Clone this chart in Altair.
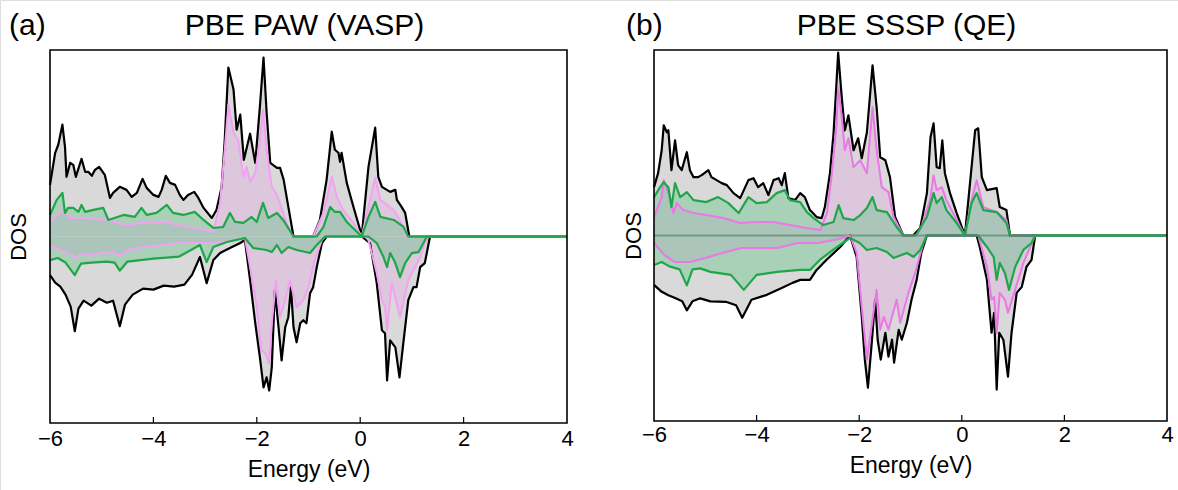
import altair as alt
import pandas as pd

# Figure geometry (pixels) and axis settings
FIG_W, FIG_H = 1178, 490
E_MIN, E_MAX = -6.0, 4.0
YLIM = 18.6
TICK_VALUES = [-6, -4, -2, 0, 2, 4]
INNER_TICKS = [-4, -2, 0, 2]

# ---------------------------------------------------------------------------
# (a) PBE PAW (VASP) -- spin-resolved DOS as (energy eV, DOS) pairs
# ---------------------------------------------------------------------------
vasp_total_up = [
    (-6.0, 5.15), (-5.9, 8.35), (-5.84, 9.15), (-5.76, 11.15), (-5.71, 8.95), (-5.68, 5.95),
    (-5.61, 7.35), (-5.55, 7.15), (-5.5, 5.95), (-5.39, 7.75), (-5.32, 6.45), (-5.26, 6.45),
    (-5.19, 6.05), (-5.13, 6.65), (-5.05, 6.95), (-4.94, 6.15), (-4.84, 3.85), (-4.78, 4.35),
    (-4.65, 4.95), (-4.52, 4.65), (-4.42, 3.95), (-4.32, 4.35), (-4.21, 5.75), (-4.13, 4.85),
    (-4.0, 4.15), (-3.9, 3.95), (-3.84, 4.65), (-3.76, 6.05), (-3.68, 5.35), (-3.58, 5.15),
    (-3.49, 4.15), (-3.42, 3.65), (-3.33, 4.15), (-3.21, 4.45), (-3.13, 3.85), (-3.03, 2.85),
    (-2.87, 1.85), (-2.78, 2.65), (-2.68, 4.95), (-2.62, 9.65), (-2.55, 16.85), (-2.45, 14.65),
    (-2.39, 10.65), (-2.32, 12.15), (-2.25, 7.65), (-2.13, 10.25), (-2.03, 7.35), (-1.94, 12.95),
    (-1.87, 17.85), (-1.81, 12.35), (-1.74, 7.35), (-1.61, 6.85), (-1.55, 6.85), (-1.48, 5.65),
    (-1.39, 2.95), (-1.29, 0.0), (-0.91, 0.0), (-0.78, 1.65), (-0.65, 5.65), (-0.55, 10.45),
    (-0.49, 8.65), (-0.42, 8.35), (-0.39, 7.45), (-0.36, 8.35), (-0.26, 5.35), (-0.13, 2.95),
    (0.03, 0.1), (0.16, 6.95), (0.29, 10.85), (0.35, 5.95), (0.42, 4.95), (0.58, 4.45),
    (0.68, 4.65), (0.71, 3.65), (0.8, 2.95), (0.87, 2.35), (0.95, 0.0), (4.0, 0.0),
]
vasp_total_dn = [
    (-6.0, -3.85), (-5.9, -4.6), (-5.8, -5.0), (-5.7, -5.8), (-5.6, -7.0), (-5.52, -9.45),
    (-5.45, -7.2), (-5.35, -6.4), (-5.2, -6.9), (-5.05, -6.2), (-4.9, -6.6), (-4.78, -6.4),
    (-4.65, -8.95), (-4.55, -6.8), (-4.4, -5.8), (-4.2, -5.2), (-4.0, -5.3), (-3.8, -4.9),
    (-3.6, -5.0), (-3.4, -4.8), (-3.25, -3.8),
    (-3.1, -2.05), (-2.97, -4.65), (-2.84, -2.35), (-2.71, -1.65), (-2.52, -1.15), (-2.32, -0.65),
    (-2.23, -0.35), (-2.13, -4.35), (-2.03, -8.65), (-1.94, -12.05), (-1.87, -15.05), (-1.81, -14.05),
    (-1.76, -15.35), (-1.71, -13.05), (-1.65, -5.35), (-1.58, -9.05), (-1.52, -12.35), (-1.45, -9.05),
    (-1.39, -8.05), (-1.34, -5.05), (-1.29, -9.05), (-1.23, -10.55), (-1.16, -8.65), (-1.1, -8.35),
    (-1.04, -8.65), (-0.97, -5.65), (-0.91, -5.05), (-0.84, -3.05), (-0.74, -0.65), (-0.65, 0.0),
    (0.03, 0.0), (0.19, -0.65), (0.32, -4.65), (0.42, -9.35), (0.48, -9.65), (0.52, -14.35),
    (0.58, -10.35), (0.68, -11.05), (0.76, -14.05), (0.84, -10.35), (0.93, -6.35), (1.03, -5.05),
    (1.09, -5.05), (1.16, -3.05), (1.25, -2.65), (1.35, 0.0), (4.0, 0.0),
]
vasp_pink_up = [
    (-6.0, 1.45), (-5.81, 2.35), (-5.74, 2.65), (-5.61, 1.85), (-5.36, 1.85), (-4.9, 1.65),
    (-4.52, 1.15), (-4.26, 1.35), (-3.74, 1.45), (-3.36, 0.95), (-2.97, 0.65), (-2.84, 0.45),
    (-2.71, 3.35), (-2.62, 8.65), (-2.55, 13.15), (-2.45, 10.35), (-2.36, 9.65), (-2.26, 5.95),
    (-2.2, 6.95), (-2.13, 5.45), (-2.03, 6.35), (-1.94, 9.65), (-1.88, 12.65), (-1.81, 8.65),
    (-1.71, 4.95), (-1.61, 4.15), (-1.49, 2.35), (-1.36, 0.45), (-1.29, 0.0), (-0.91, 0.0),
    (-0.71, 2.35), (-0.55, 5.95), (-0.45, 3.95), (-0.33, 2.65), (-0.13, 1.35), (0.03, 0.0),
    (0.19, 3.65), (0.29, 5.85), (0.39, 3.65), (0.65, 2.65), (0.84, 0.95), (0.9, 0.0), (4.0, 0.0),
]
vasp_pink_dn = [
    (-6.0, -0.85), (-5.8, -1.35), (-5.65, -1.6), (-5.52, -2.1), (-5.4, -1.8), (-5.2, -1.9),
    (-5.0, -1.6), (-4.8, -1.6), (-4.65, -1.9), (-4.5, -1.4), (-4.3, -1.15), (-3.5, -0.65),
    (-2.8, -0.65), (-2.4, -0.35), (-2.23, -0.15),
    (-2.13, -3.05), (-2.0, -7.05), (-1.91, -11.35), (-1.84, -11.65), (-1.76, -12.65), (-1.71, -8.65),
    (-1.63, -4.35), (-1.55, -8.05), (-1.45, -6.35), (-1.36, -4.35), (-1.23, -7.05), (-1.1, -6.35),
    (-1.0, -5.05), (-0.88, -2.35), (-0.74, -0.35), (-0.68, 0.0), (0.1, 0.0), (0.16, -0.35),
    (0.32, -3.65), (0.42, -6.35), (0.48, -7.05), (0.52, -9.35), (0.61, -4.65), (0.77, -8.05),
    (0.93, -4.35), (1.16, -2.05), (1.3, 0.0), (4.0, 0.0),
]
vasp_green_up = [
    (-6.0, 2.15), (-5.87, 3.65), (-5.76, 4.35), (-5.71, 2.35), (-5.65, 2.85), (-5.55, 2.85),
    (-5.45, 2.45), (-5.39, 3.15), (-5.32, 2.45), (-5.16, 2.65), (-4.97, 2.85), (-4.87, 1.65),
    (-4.58, 2.15), (-4.36, 1.95), (-4.23, 2.85), (-4.13, 2.15), (-3.94, 2.35), (-3.74, 3.15),
    (-3.62, 2.35), (-3.42, 2.15), (-3.2, 2.45), (-3.03, 1.65), (-2.84, 0.85), (-2.65, 0.95),
    (-2.52, 2.35), (-2.42, 1.45), (-2.26, 1.35), (-2.1, 1.95), (-2.0, 1.45), (-1.88, 3.35),
    (-1.78, 1.85), (-1.61, 2.35), (-1.49, 1.65), (-1.29, 0.0), (-0.84, 0.0), (-0.71, 0.95),
    (-0.58, 2.95), (-0.49, 2.45), (-0.39, 2.45), (-0.26, 1.45), (0.03, 0.0), (0.16, 1.95),
    (0.29, 3.45), (0.39, 1.95), (0.65, 1.65), (0.84, 0.95), (0.93, 0.0), (4.0, 0.0),
]
vasp_green_dn = [
    (-6.0, -2.35), (-5.85, -2.15), (-5.7, -2.6), (-5.52, -3.85), (-5.4, -2.7), (-5.2, -2.6),
    (-4.9, -2.5), (-4.75, -2.6), (-4.65, -3.4), (-4.5, -2.5), (-4.0, -2.2), (-3.5, -2.0),
    (-3.1, -0.85), (-2.97, -2.55), (-2.84, -1.05), (-2.58, -0.55), (-2.23, -0.15), (-2.07, -1.15),
    (-1.81, -1.35), (-1.71, -1.55), (-1.61, -0.85), (-1.52, -1.65), (-1.39, -1.05), (-1.23, -1.35),
    (-0.97, -1.65), (-0.84, -0.85), (-0.68, 0.0), (0.16, 0.0), (0.32, -0.65), (0.45, -2.05),
    (0.52, -3.05), (0.58, -1.65), (0.68, -2.65), (0.77, -4.05), (0.87, -2.65), (1.0, -1.65),
    (1.13, -1.55), (1.29, 0.0), (4.0, 0.0),
]

# ---------------------------------------------------------------------------
# (b) PBE SSSP (QE) -- spin-resolved DOS as (energy eV, DOS) pairs
# ---------------------------------------------------------------------------
qe_total_up = [
    (-6.0, 4.85), (-5.92, 6.25), (-5.85, 8.55), (-5.81, 11.05), (-5.75, 10.35), (-5.72, 10.55),
    (-5.66, 6.55), (-5.59, 9.55), (-5.53, 7.05), (-5.46, 6.55), (-5.36, 8.35), (-5.3, 6.55),
    (-5.23, 5.85), (-5.14, 5.85), (-5.07, 6.05), (-4.94, 6.55), (-4.88, 5.85), (-4.78, 5.55),
    (-4.68, 5.25), (-4.58, 5.05), (-4.45, 4.25), (-4.32, 3.75), (-4.16, 5.55), (-4.06, 5.75),
    (-3.97, 4.85), (-3.87, 5.25), (-3.77, 4.05), (-3.67, 5.55), (-3.57, 5.75), (-3.51, 5.05),
    (-3.45, 6.25), (-3.38, 3.75), (-3.25, 3.55), (-3.15, 4.25), (-3.06, 3.85), (-2.96, 2.55),
    (-2.83, 1.85), (-2.73, 1.75), (-2.67, 2.85), (-2.57, 6.25), (-2.5, 10.25), (-2.44, 15.55),
    (-2.41, 18.35), (-2.34, 13.85), (-2.28, 10.55), (-2.21, 12.05), (-2.11, 8.55), (-2.02, 9.75),
    (-1.95, 7.75), (-1.85, 10.35), (-1.74, 17.05), (-1.66, 12.85), (-1.59, 7.85), (-1.49, 7.55),
    (-1.4, 5.85), (-1.3, 1.85), (-1.14, 0.0), (-0.95, 0.0), (-0.81, 0.75), (-0.68, 4.25),
    (-0.61, 9.85), (-0.55, 11.25), (-0.49, 6.85), (-0.43, 6.75), (-0.38, 9.55), (-0.33, 6.25),
    (-0.23, 4.25), (-0.1, 2.25), (0.06, 0.0), (0.16, 5.25), (0.26, 10.55), (0.32, 10.75),
    (0.39, 5.85), (0.49, 4.55), (0.68, 4.75), (0.74, 2.85), (0.87, 2.55), (0.94, 0.0), (4.0, 0.0),
]
qe_total_dn = [
    (-6.0, -4.95), (-5.85, -5.65), (-5.72, -6.0), (-5.6, -6.25), (-5.45, -6.6), (-5.36, -7.5),
    (-5.25, -6.6), (-5.1, -6.3), (-4.9, -6.6), (-4.6, -6.65), (-4.4, -7.0), (-4.28, -8.25),
    (-4.1, -6.45), (-3.8, -5.95), (-3.5, -5.25), (-3.3, -4.75), (-3.15, -4.45), (-2.96, -4.45),
    (-2.83, -3.45), (-2.64, -2.45), (-2.37, -1.15), (-2.18, 0.0), (-2.05, -2.15), (-1.95, -8.15),
    (-1.89, -12.45), (-1.83, -15.25), (-1.75, -10.45), (-1.69, -6.45), (-1.64, -10.45), (-1.58, -12.45),
    (-1.49, -9.75), (-1.43, -12.15), (-1.36, -10.45), (-1.32, -12.75), (-1.23, -9.45), (-1.17, -10.45),
    (-1.07, -8.75), (-0.98, -6.45), (-0.88, -4.45), (-0.79, -1.75), (-0.68, 0.0), (0.29, 0.0),
    (0.35, -1.15), (0.49, -4.45), (0.58, -9.75), (0.63, -7.75), (0.68, -15.45), (0.73, -9.75),
    (0.81, -10.45), (0.9, -14.15), (0.97, -9.75), (1.07, -5.75), (1.17, -5.15), (1.26, -3.15),
    (1.36, -2.45), (1.43, 0.0), (4.0, 0.0),
]
qe_pink_up = [
    (-6.0, 1.85), (-5.85, 3.85), (-5.81, 5.55), (-5.69, 3.85), (-5.62, 2.25), (-5.56, 3.25),
    (-5.43, 2.55), (-5.23, 2.25), (-4.98, 2.05), (-4.65, 1.75), (-4.32, 1.25), (-4.0, 1.35),
    (-3.67, 1.35), (-3.35, 1.05), (-3.02, 0.75), (-2.76, 0.55), (-2.63, 2.25), (-2.54, 5.85),
    (-2.44, 11.25), (-2.41, 14.85), (-2.34, 11.85), (-2.28, 8.55), (-2.21, 9.75), (-2.11, 6.85),
    (-1.98, 7.55), (-1.85, 6.25), (-1.74, 12.85), (-1.66, 8.55), (-1.56, 4.85), (-1.43, 4.35),
    (-1.33, 1.85), (-1.14, 0.0), (-0.9, 0.0), (-0.81, 0.55), (-0.62, 3.55), (-0.55, 6.05),
    (-0.49, 4.55), (-0.39, 4.85), (-0.3, 3.55), (-0.1, 1.55), (0.06, 0.0), (0.19, 3.55),
    (0.29, 5.55), (0.42, 2.85), (0.68, 2.35), (0.87, 1.55), (0.94, 0.0), (4.0, 0.0),
]
qe_pink_dn = [
    (-6.0, -0.75), (-5.8, -1.95), (-5.6, -2.65), (-5.3, -2.65), (-5.0, -2.25), (-4.6, -1.65),
    (-4.3, -1.25), (-3.6, -1.25), (-3.2, -0.75), (-2.8, -0.75), (-2.4, -0.35), (-2.18, 0.0),
    (-2.05, -1.75), (-1.95, -7.15), (-1.85, -12.45), (-1.75, -8.75), (-1.66, -5.45), (-1.59, -9.45),
    (-1.52, -8.15), (-1.43, -9.45), (-1.27, -6.45), (-1.2, -8.75), (-1.04, -5.75), (-0.91, -3.75),
    (-0.75, -0.75), (-0.68, 0.0), (0.32, 0.0), (0.49, -3.15), (0.58, -6.45), (0.63, -6.15),
    (0.68, -9.75), (0.74, -5.75), (0.84, -6.45), (0.9, -7.75), (1.04, -5.45), (1.2, -2.75),
    (1.39, -0.45), (1.43, 0.0), (4.0, 0.0),
]
qe_green_up = [
    (-6.0, 3.85), (-5.88, 4.85), (-5.81, 5.35), (-5.72, 4.85), (-5.66, 2.85), (-5.59, 5.25),
    (-5.49, 3.85), (-5.36, 4.35), (-5.23, 3.55), (-4.98, 3.35), (-4.75, 3.85), (-4.55, 3.25),
    (-4.35, 2.25), (-4.16, 3.85), (-4.0, 3.25), (-3.8, 3.35), (-3.61, 4.25), (-3.45, 4.55),
    (-3.35, 3.55), (-3.15, 3.35), (-3.02, 2.35), (-2.89, 1.75), (-2.7, 1.05), (-2.5, 1.35),
    (-2.4, 3.05), (-2.31, 1.75), (-2.11, 1.55), (-1.98, 2.05), (-1.85, 2.75), (-1.74, 3.85),
    (-1.66, 2.55), (-1.46, 2.35), (-1.27, 0.85), (-1.14, 0.0), (-0.9, 0.0), (-0.68, 1.85),
    (-0.55, 4.25), (-0.49, 3.25), (-0.39, 3.85), (-0.3, 2.55), (-0.1, 1.25), (0.06, 0.0),
    (0.19, 3.25), (0.29, 4.25), (0.42, 2.55), (0.68, 2.35), (0.87, 1.25), (0.94, 0.0), (4.0, 0.0),
]
qe_green_dn = [
    (-6.0, -2.95), (-5.85, -2.65), (-5.7, -3.1), (-5.5, -3.4), (-5.36, -5.0), (-5.25, -3.4),
    (-5.1, -3.3), (-4.9, -3.65), (-4.5, -3.95), (-4.25, -5.45), (-4.0, -3.95), (-3.6, -3.65),
    (-3.15, -3.45), (-2.96, -3.45), (-2.77, -2.45), (-2.51, -1.45), (-2.18, -0.25), (-1.99, -0.75),
    (-1.85, -1.45), (-1.66, -1.25), (-1.46, -1.65), (-1.33, -2.25), (-1.07, -1.75), (-0.94, -2.15),
    (-0.81, -1.45), (-0.68, 0.0), (0.32, 0.0), (0.49, -1.15), (0.62, -2.15), (0.68, -4.45),
    (0.74, -2.75), (0.84, -3.75), (0.92, -5.45), (1.04, -3.15), (1.2, -1.45), (1.36, -0.75),
    (1.43, 0.0), (4.0, 0.0),
]

# Colours
GRAY_FILL = "#d9d9d9"
PINK = "#ee82ee"
GREEN_FILL = "#3cbf6a"
GREEN = "#1fa64a"
FONT = "Liberation Sans"


def long_frame(curves):
    """Stack (kind, spin) -> [(E, dos), ...] into one tidy table."""
    rows = []
    for (kind, spin), pairs in curves.items():
        for e, d in pairs:
            rows.append({"E": e, "D": d, "Z": 0.0, "kind": kind, "spin": spin})
    return pd.DataFrame(rows)


def panel(curves, x_range, y_range, title, tag, tag_x, pink_line, label_pad, title_pad,
          dos_pad, zero_rule=None):
    data = long_frame(curves)
    xs = alt.Scale(domain=[E_MIN, E_MAX], range=x_range, nice=False, zero=False)
    ys = alt.Scale(domain=[-YLIM, YLIM], range=y_range, nice=False, zero=False)
    x_axis = alt.Axis(
        orient="bottom", offset=-(FIG_H - y_range[0]), values=TICK_VALUES, ticks=False,
        domain=False, grid=False, labelFontSize=22, labelPadding=label_pad, labelFont=FONT,
        labelColor="black", labelFlush=False, labelOverlap=False,
        title="Energy (eV)", titleFontSize=23, titleFont=FONT,
        titleFontWeight="normal", titleColor="black", titlePadding=title_pad,
    )
    y_axis = alt.Axis(
        orient="left", offset=-x_range[0], labels=False, ticks=False, domain=False,
        grid=False, title="DOS", titleFontSize=22, titleFont=FONT, titleFontWeight="normal",
        titleColor="black", titlePadding=dos_pad,
    )

    def X(field):
        return alt.X(f"{field}:Q", scale=xs, axis=x_axis)

    def Y(field):
        return alt.Y(f"{field}:Q", scale=ys, axis=y_axis, stack=None)

    base = alt.Chart(data)
    layers = []

    def subset(kind, spin):
        return base.transform_filter((alt.datum.kind == kind) & (alt.datum.spin == spin))

    # filled areas: total, projected (pink), projected (green)
    for kind, fill, op in (("total", GRAY_FILL, 1.0), ("pink", PINK, 0.2),
                           ("green", GREEN_FILL, 0.3)):
        for spin in ("up", "dn"):
            layers.append(
                subset(kind, spin).mark_area(color=fill, opacity=op).encode(
                    x=X("E"), y=Y("D"), y2="Z:Q"
                )
            )

    if zero_rule is not None:
        zr = pd.DataFrame({"x0": [E_MIN], "x1": [E_MAX], "y0": [0.0]})
        layers.append(
            alt.Chart(zr).mark_rule(color=zero_rule, strokeWidth=2.2).encode(
                x=X("x0"), x2="x1:Q", y=Y("y0")
            )
        )

    # outlines drawn on top of all fills
    for kind, col, lw in (("total", "black", 2.2), ("pink", pink_line, 2.0),
                          ("green", GREEN, 2.2)):
        for spin in ("up", "dn"):
            layers.append(
                subset(kind, spin).mark_line(color=col, strokeWidth=lw, strokeJoin="round").encode(
                    x=X("E"), y=Y("D")
                )
            )

    # inward-pointing ticks on the bottom spine
    ticks = pd.DataFrame({"t": INNER_TICKS, "yb": [-YLIM] * len(INNER_TICKS)})
    layers.append(
        alt.Chart(ticks).mark_rule(color="black", strokeWidth=1.2, y2Offset=-6).encode(
            x=X("t"), y=Y("yb"), y2="yb:Q"
        )
    )

    # plot frame
    box = pd.DataFrame({"x0": [E_MIN], "x1": [E_MAX], "y0": [-YLIM], "y1": [YLIM]})
    layers.append(
        alt.Chart(box).mark_rect(fillOpacity=0, stroke="black", strokeWidth=1.6).encode(
            x=X("x0"), x2="x1:Q", y=Y("y0"), y2="y1:Q"
        )
    )

    # panel title and tag
    ttl = pd.DataFrame({"xc": [(E_MIN + E_MAX) / 2], "title": [title]})
    layers.append(
        alt.Chart(ttl).mark_text(fontSize=30, font=FONT, baseline="alphabetic", align="center",
                                 color="black", dx=-4).encode(
            x=X("xc"), y=alt.value(35), text="title:N"
        )
    )
    tg = pd.DataFrame({"tag": [tag]})
    layers.append(
        alt.Chart(tg).mark_text(fontSize=30, font=FONT, baseline="alphabetic", align="left",
                                color="black").encode(
            x=alt.value(tag_x), y=alt.value(35), text="tag:N"
        )
    )
    return alt.layer(*layers)


panel_a = panel(
    {("total", "up"): vasp_total_up, ("total", "dn"): vasp_total_dn,
     ("pink", "up"): vasp_pink_up, ("pink", "dn"): vasp_pink_dn,
     ("green", "up"): vasp_green_up, ("green", "dn"): vasp_green_dn},
    x_range=[50, 567], y_range=[423, 50], title="PBE PAW (VASP)", tag="(a)", tag_x=9,
    pink_line="#f3a2f3", label_pad=5, title_pad=9, dos_pad=20,
)
panel_b = panel(
    {("total", "up"): qe_total_up, ("total", "dn"): qe_total_dn,
     ("pink", "up"): qe_pink_up, ("pink", "dn"): qe_pink_dn,
     ("green", "up"): qe_green_up, ("green", "dn"): qe_green_dn},
    x_range=[654, 1167], y_range=[421, 50], title="PBE SSSP (QE)", tag="(b)", tag_x=626,
    pink_line="#ea78e6", label_pad=3, title_pad=9, dos_pad=9, zero_rule="#6f9c84",
)

chart = (
    alt.layer(panel_a, panel_b)
    .resolve_scale(x="independent", y="independent")
    .properties(width=FIG_W, height=FIG_H, padding=0,
                autosize=alt.AutoSizeParams(type="none"))
    .configure_view(stroke=None)
    .configure(background="white")
)

chart.save("out.html", embed_options={"renderer": "svg", "actions": False})
